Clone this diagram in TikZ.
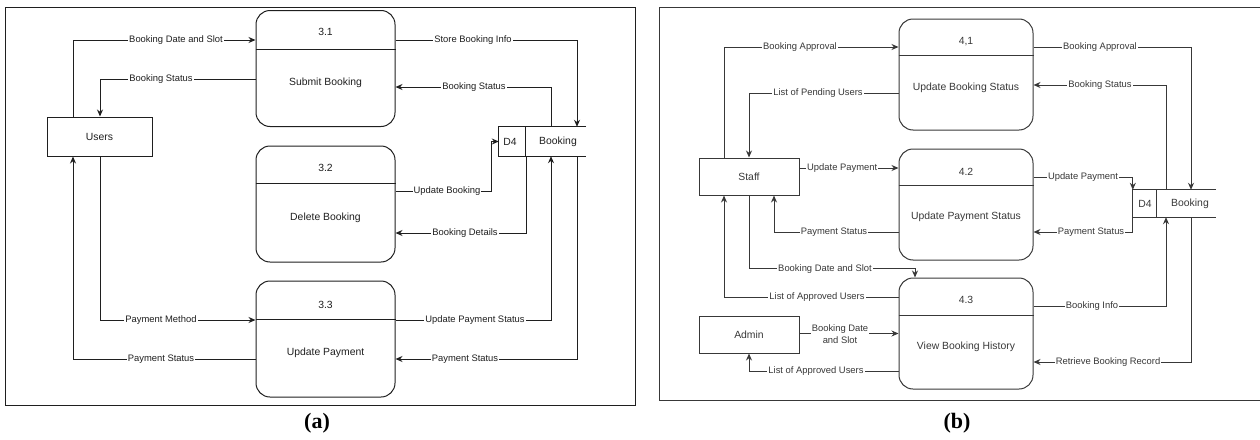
\documentclass[tikz,border=0pt]{standalone}
\usepackage{fontspec}
\setmainfont{Liberation Sans}
\newfontfamily\capfont{Liberation Serif}
\usetikzlibrary{arrows.meta}
\begin{document}
\begin{tikzpicture}[x=1pt,y=-1pt,
  every node/.style={font=\fontsize{10.4}{12}\selectfont, inner sep=0pt},
  ln/.style={line width=1pt},
  arr/.style={line width=1pt, -{Stealth[length=7pt,width=6pt]}},
  ent/.style={draw, line width=1pt, rectangle, minimum width=105pt, minimum height=39pt},
  proc/.style={draw, line width=1pt, rounded corners=14pt, minimum width=139pt, minimum height=116pt},
  procb/.style={draw, line width=1pt, rounded corners=14pt, minimum width=134pt, minimum height=111pt},
  sto/.style={rectangle, minimum width=87pt, minimum height=29pt},
  lbl/.style={fill=white, inner xsep=1pt, inner ysep=0.5pt, font=\fontsize{9.4}{11}\selectfont},
  capt/.style={font=\capfont\bfseries\fontsize{22}{24}\selectfont}
]
\useasboundingbox (0,0) rectangle (1260,439);

% ================= panel (a) =================
\begin{scope}[color=black!88]
\draw[ln] (5,7) rectangle (635,405);

\node[ent] (users) at (99.5,136.5) {Users};

\node[proc] (p31) at (325.5,68.5) {};
\draw[ln] ([yshift=-39]p31.north west) -- ([yshift=-39]p31.north east);
\node (p31n) at (325.5,32) {3.1};
\node (p31t) at (325.5,83) {Submit Booking};

\node[proc] (p32) at (325.5,204) {};
\draw[ln] ([yshift=-38]p32.north west) -- ([yshift=-38]p32.north east);
\node (p32n) at (325.5,168) {3.2};
\node (p32t) at (325.5,218) {Delete Booking};

\node[proc] (p33) at (325.5,339) {};
\draw[ln] ([yshift=-39]p33.north west) -- ([yshift=-39]p33.north east);
\node (p33n) at (325.5,305) {3.3};
\node (p33t) at (325.5,353) {Update Payment};

\node[sto] (st) at (542.5,141.5) {};
\draw[ln] (st.north east) -- (st.north west) -- (st.south west) -- (st.south east);
\draw[ln] ([xshift=27]st.north west) -- ([xshift=27]st.south west);
\node (stid) at (510,141.5) {D4};
\node (stnm) at (558,141.5) {Booking};

% connectors
\draw[arr] ([xshift=-26.5]users.north) |- ([yshift=28.5]p31.west);
\node[lbl] (la1) at (176,40) {Booking Date and Slot};
\draw[arr] ([yshift=-10.5]p31.west) -| ([xshift=0.5]users.north);
\node[lbl] (la2) at (161,79) {Booking Status};
\draw[arr] ([xshift=0.5]users.south) |- ([yshift=19]p33.west);
\node[lbl] (la3) at (161,320) {Payment Method};
\draw[arr] ([yshift=-20]p33.west) -| ([xshift=-26.5]users.south);
\node[lbl] (la4) at (161,359) {Payment Status};

\draw[arr] ([yshift=28.5]p31.east) -| ([xshift=34.5]st.north);
\node[lbl] (la5) at (473,40) {Store Booking Info};
\draw[arr] ([xshift=8.5]st.north) |- ([yshift=-18.5]p31.east);
\node[lbl] (la6) at (474,87) {Booking Status};
\draw[arr] ([yshift=13]p32.east) -- ++(96,0) |- (st.west);
\node[lbl] (la7) at (447,191) {Update Booking};
\draw[arr] ([xshift=-16.5]st.south) |- ([yshift=-29]p32.east);
\node[lbl] (la8) at (465,233) {Booking Details};
\draw[arr] ([yshift=19]p33.east) -| ([xshift=8.5]st.south);
\node[lbl] (la9) at (475,320) {Update Payment Status};
\draw[arr] ([xshift=34.5]st.south) |- ([yshift=-20]p33.east);
\node[lbl] (la10) at (465,359) {Payment Status};

\node[capt, color=black] (capa) at (317,423) {(a)};
\end{scope}

% ================= panel (b) =================
\begin{scope}[color=black!78]
\draw[ln] (1262,7) -- (659,7) -- (659,400) -- (1262,400);

\node[ent, minimum width=100pt, minimum height=37pt] (staff) at (749,176.5) {Staff};
\node[ent, minimum width=100pt, minimum height=37pt] (admin) at (749,334.5) {Admin};

\node[procb] (p41) at (966,74.5) {};
\draw[ln] ([yshift=-37]p41.north west) -- ([yshift=-37]p41.north east);
\node (p41n) at (966,42) {4,1};
\node (p41t) at (966,88) {Update Booking Status};

\node[procb] (p42) at (966,204.5) {};
\draw[ln] ([yshift=-37]p42.north west) -- ([yshift=-37]p42.north east);
\node (p42n) at (966,172) {4.2};
\node (p42t) at (966,217) {Update Payment Status};

\node[procb] (p43) at (966,333.5) {};
\draw[ln] ([yshift=-38]p43.north west) -- ([yshift=-38]p43.north east);
\node (p43n) at (966,300) {4.3};
\node (p43t) at (966,347) {View Booking History};

\node[sto, minimum width=83pt, minimum height=27pt] (sb) at (1174.5,203.5) {};
\draw[ln] (sb.north east) -- (sb.north west) -- (sb.south west) -- (sb.south east);
\draw[ln] ([xshift=24]sb.north west) -- ([xshift=24]sb.south west);
\node (sbid) at (1145,203.5) {D4};
\node (sbnm) at (1190,203.5) {Booking};

% connectors
\draw[arr] ([xshift=-25]staff.north) |- ([yshift=27.5]p41.west);
\node[lbl] (lb1) at (800,47) {Booking Approval};
\draw[arr] ([yshift=-18.5]p41.west) -| (staff.north);
\node[lbl] (lb2) at (818,93) {List of Pending Users};
\draw[arr] ([yshift=8.5]staff.east) -- ([yshift=8.5]staff.east -| p42.west);
\node[lbl, anchor=west] (lb3) at (806,168) {Update Payment};
\draw[arr] ([yshift=-27.5]p42.west) -| ([xshift=25]staff.south);
\node[lbl] (lb4) at (834,232) {Payment Status};
\draw[arr] (staff.south) |- ([xshift=-51,yshift=9]p43.north) -- ([xshift=-51]p43.north);
\node[lbl] (lb5) at (825,269) {Booking Date and Slot};
\draw[arr] ([yshift=36.5]p43.west) -| ([xshift=-25]staff.south);
\node[lbl] (lb6) at (817,297) {List of Approved Users};
\draw[arr] ([yshift=1]admin.east) -- ([yshift=1]admin.east -| p43.west);
\node[lbl, align=center, font=\fontsize{9.4}{11.5}\selectfont] (lb7) at (840,334) {Booking Date\\and Slot};
\draw[arr] ([yshift=-37.5]p43.west) -| (admin.south);
\node[lbl] (lb8) at (816,371) {List of Approved Users};

\draw[arr] ([yshift=27.5]p41.east) -| ([xshift=16.5]sb.north);
\node[lbl] (lb9) at (1100,47) {Booking Approval};
\draw[arr] ([xshift=-8.5]sb.north) |- ([yshift=-10.5]p41.east);
\node[lbl] (lb10) at (1100,85) {Booking Status};
\draw[arr] ([yshift=27.5]p42.east) -| (sb.north west);
\node[lbl] (lb11) at (1083,177) {Update Payment};
\draw[arr] (sb.south west) |- ([yshift=-27.5]p42.east);
\node[lbl] (lb12) at (1091,232) {Payment Status};
\draw[arr] ([yshift=27.5]p43.east) -| ([xshift=-8.5]sb.south);
\node[lbl] (lb13) at (1092,306) {Booking Info};
\draw[arr] ([xshift=16.5]sb.south) |- ([yshift=-28.5]p43.east);
\node[lbl] (lb14) at (1108,362) {Retrieve Booking Record};

\node[capt, color=black] (capb) at (957,423) {(b)};
\end{scope}
\end{tikzpicture}
\end{document}
